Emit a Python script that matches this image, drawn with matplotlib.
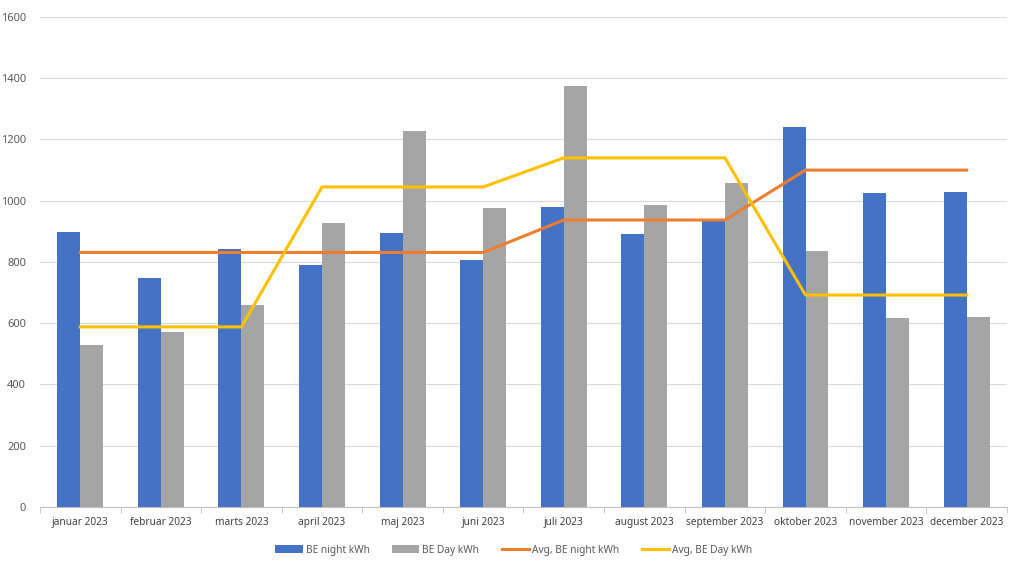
import numpy as np
import matplotlib
matplotlib.use("Agg")
import matplotlib.pyplot as plt

plt.rcParams['font.family'] = ['Noto Sans', 'DejaVu Sans']

months = ["januar 2023", "februar 2023", "marts 2023", "april 2023", "maj 2023", "juni 2023",
          "juli 2023", "august 2023", "september 2023", "oktober 2023", "november 2023", "december 2023"]
night_kwh = [898, 748, 842, 790, 895, 806, 980, 891, 934, 1241, 1025, 1029]
day_kwh = [529, 571, 660, 927, 1228, 976, 1375, 986, 1058, 836, 617, 620]
avg_night = [831, 831, 831, 831, 831, 831, 937, 937, 937, 1100, 1100, 1100]
avg_day = [588, 588, 588, 1045, 1045, 1045, 1140, 1140, 1140, 692, 692, 692]

fig = plt.figure(figsize=(10.1, 5.61), dpi=100)
ax = fig.add_axes([0.0396, 0.0963, 0.9574, 0.8734])

x = np.arange(len(months))
w = 0.285
b1 = ax.bar(x - w / 2, night_kwh, w, color='#4472C4', label='BE night kWh', zorder=2)
b2 = ax.bar(x + w / 2, day_kwh, w, color='#A5A5A5', label='BE Day kWh', zorder=2)
l1, = ax.plot(x, avg_night, color='#ED7D31', lw=2.2, label='Avg, BE night kWh', zorder=3)
l2, = ax.plot(x, avg_day, color='#FFC000', lw=2.2, label='Avg, BE Day kWh', zorder=3)

ax.set_xlim(-0.5, len(months) - 0.5)
ax.set_ylim(0, 1600)
ax.set_yticks(range(0, 1601, 200))
ax.grid(axis='y', color='#D9D9D9', lw=0.8, zorder=0)
for s in ['top', 'right', 'left']:
    ax.spines[s].set_visible(False)
ax.spines['bottom'].set_color('#BFBFBF')
ax.spines['bottom'].set_zorder(1)

ax.set_xticks(x)
ax.set_xticklabels(months)
ax.set_xticks(np.arange(-0.5, len(months), 1), minor=True)
ax.tick_params(axis='x', which='major', length=0, labelsize=7.3, colors='#404040', pad=7)
ax.tick_params(axis='x', which='minor', length=4, color='#BFBFBF')
ax.tick_params(axis='y', length=0, labelsize=8, colors='#595959', pad=10)

ax.legend(handles=[b1, b2, l1, l2], loc='upper center', bbox_to_anchor=(0.49, -0.058), ncol=4,
          frameon=False, fontsize=7.3, handlelength=2.7, handleheight=0.7, columnspacing=2.2,
          handletextpad=0.3, labelcolor='#595959')

fig.savefig("out.png", dpi=100)
